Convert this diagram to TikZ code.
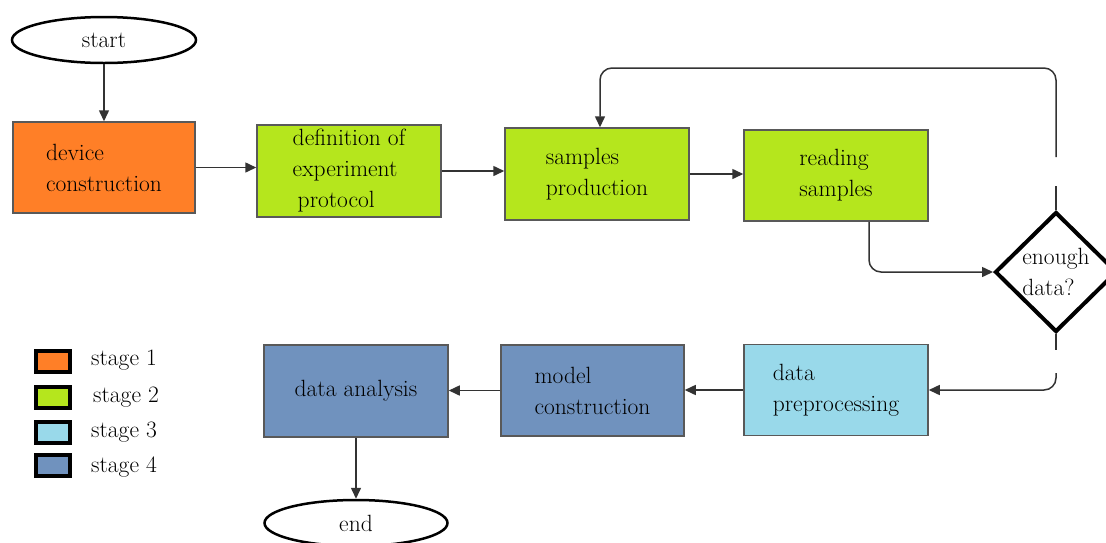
\documentclass[tikz,border=0pt]{standalone}
\usetikzlibrary{shapes.geometric,arrows.meta}
\definecolor{st1}{HTML}{FF7F27}
\definecolor{st2}{HTML}{B5E61D}
\definecolor{st3}{HTML}{99D9EA}
\definecolor{st4}{HTML}{7092BE}
\begin{document}
\begin{tikzpicture}[x=1pt,y=-1pt,
  font=\fontsize{23.5}{31}\selectfont,
  box/.style={draw=black!65, line width=1.5pt, minimum width=183pt, minimum height=91pt, align=left, inner sep=0pt},
  term/.style={ellipse, draw=black, line width=2.5pt, minimum width=184pt, minimum height=46pt, inner sep=0pt},
  plainline/.style={draw=black!80, line width=1.5pt, rounded corners=12pt},
  conn/.style={plainline, -{Triangle[length=11pt,width=10pt]}},
  legbox/.style={draw=black, line width=3.5pt, minimum width=34pt, minimum height=21pt, inner sep=0pt},
  leglabel/.style={anchor=west, inner sep=0pt}]
\useasboundingbox (0,0) rectangle (1106,542);
\fill[white] (0,0) rectangle (1106,542);

% nodes
\node[term] (start) at (104,40) {start};
\node[box, fill=st1, minimum width=182pt] (dev) at (104,167.5) {device\\construction};
\node[box, fill=st2, minimum width=184pt, minimum height=92pt] (def) at (349,171) {definition of\\experiment\\\hspace*{5pt}protocol};
\node[box, fill=st2, minimum width=184pt, minimum height=92pt] (samp) at (597,174) {samples\\production};
\node[box, fill=st2, minimum width=184pt] (read) at (836,175.5) {reading\\samples};
\node[diamond, draw=black, line width=4pt, minimum width=122pt, minimum height=120pt, inner sep=0pt, align=left] (dec) at (1056,272) {enough\\data?};
\node[box, fill=st3, minimum width=184pt] (pre) at (836,390) {data\\preprocessing};
\node[box, fill=st4] (mod) at (592.5,390.5) {model\\construction};
\node[box, fill=st4, minimum width=184pt, minimum height=92pt] (ana) at (356,391) {data analysis};
\node[term, minimum width=183pt] (end) at (356,523) {end};

% gap coordinates on the loop lines
\coordinate (ga) at (1056,186);
\coordinate (gb) at (1056,157);
\coordinate (top) at (0,68);
\coordinate (gc) at (1056,350);
\coordinate (gd) at (1056,373);

% connectors
\draw[conn] (start) -- (dev);
\draw[conn] (dev.east) -- (dev.east -| def.west);
\draw[conn] (def.east) -- (def.east -| samp.west);
\draw[conn] (samp.east) -- (samp.east -| read.west);
\draw[conn] ([xshift=33pt]read.south) |- (dec.west);
\draw[plainline] (dec.north) -- (ga);
\draw[conn] (gb) |- ([xshift=3pt]samp.north |- top) -- ([xshift=3pt]samp.north);
\draw[plainline] (dec.south) -- (gc);
\draw[conn] (gd) |- (pre.east);
\draw[conn] (pre.west) -- (pre.west -| mod.east);
\draw[conn] (mod.west) -- (mod.west -| ana.east);
\draw[conn] (ana) -- (end);

% legend
\node[legbox, fill=st1] (l1) at (53,361.5) {};
\node[legbox, fill=st2] (l2) at (53,397.5) {};
\node[legbox, fill=st3] (l3) at (53,432.5) {};
\node[legbox, fill=st4] (l4) at (53,465.5) {};
\node[leglabel] (t1) at (91,360) {stage 1};
\node[leglabel] (t2) at (93,397) {stage 2};
\node[leglabel] (t3) at (91,432) {stage 3};
\node[leglabel] (t4) at (91,467) {stage 4};
\end{tikzpicture}
\end{document}
